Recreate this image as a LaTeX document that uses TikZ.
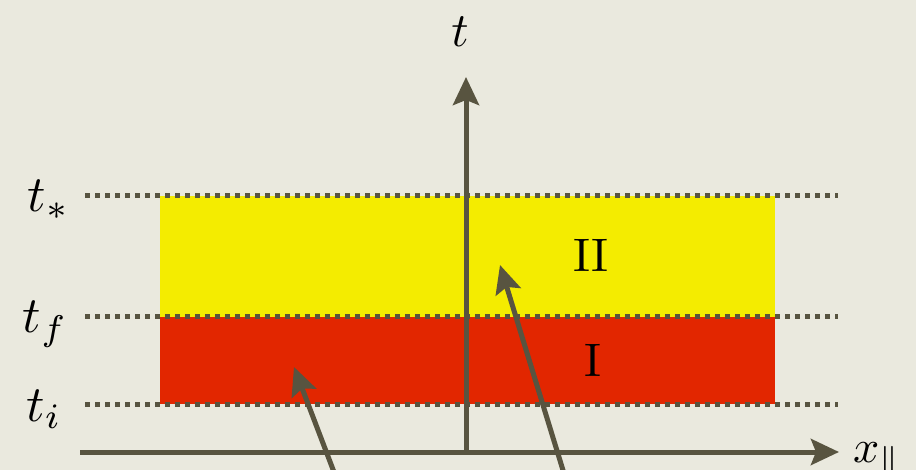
\documentclass[tikz,border=0pt]{standalone}
\usepackage{graphicx}
\usetikzlibrary{arrows.meta}
\definecolor{bg}{RGB}{234,233,222}
\definecolor{axis}{RGB}{88,84,64}
\definecolor{ylw}{RGB}{244,236,0}
\definecolor{rd}{RGB}{226,38,0}
\newcommand{\bigmath}[2]{\scalebox{#1}{$#2$}}
\tikzset{
  axisline/.style={draw=axis,line width=5pt,-{Stealth[length=28pt,width=26pt,inset=5pt]}},
  level/.style={draw=axis,line width=5pt,dash pattern=on 5pt off 5pt},
  sidelabel/.style={anchor=base east,inner sep=0pt},
  region/.style={text=black,inner sep=0pt},
}
\begin{document}
\begin{tikzpicture}[x=1pt,y=-1pt]
\fill[bg] (0,0) rectangle (916,470);
\useasboundingbox (0,0) rectangle (916,470);
% regions
\fill[ylw] (160,196) rectangle (775,317);
\fill[rd] (160,317) rectangle (775,404);
% level lines
\coordinate (s0) at (85,196); \coordinate (s1) at (838,196);
\coordinate (f0) at (85,317); \coordinate (f1) at (838,317);
\coordinate (i0) at (85,404); \coordinate (i1) at (838,404);
\draw[level] (s0) -- (s1);
\draw[level] (f0) -- (f1);
\draw[level] (i0) -- (i1);
% axes
\coordinate (xs) at (80,452);
\coordinate (xe) at (839,452);
\coordinate (ts) at (466,452);
\coordinate (te) at (466,77);
\draw[axisline] (xs) -- (xe);
\draw[axisline] (ts) -- (te);
% labels
\node[inner sep=0pt] (tl) at (460,32) {\bigmath{4.8}{t}};
\node[inner sep=0pt,anchor=base west] (xl) at (853,462) {\bigmath{4.6}{x_{\|}}};
\node[sidelabel] (tstar) at (70,212) {\bigmath{5.1}{t_*}};
\node[sidelabel] (tf) at (68,333) {\bigmath{5.1}{t_f}};
\node[sidelabel] (ti) at (62,421) {\bigmath{5.1}{t_i}};
\node[region] (II) at (591,255) {\scalebox{4.7}{II}};
\node[region] (I) at (593,360) {\scalebox{4.7}{I}};
% arrows
\coordinate (a1s) at (337,480); \coordinate (a1e) at (294,367);
\coordinate (a2s) at (566,480); \coordinate (a2e) at (500,265);
\draw[axisline] (a1s) -- (a1e);
\draw[axisline] (a2s) -- (a2e);
\end{tikzpicture}
\end{document}
